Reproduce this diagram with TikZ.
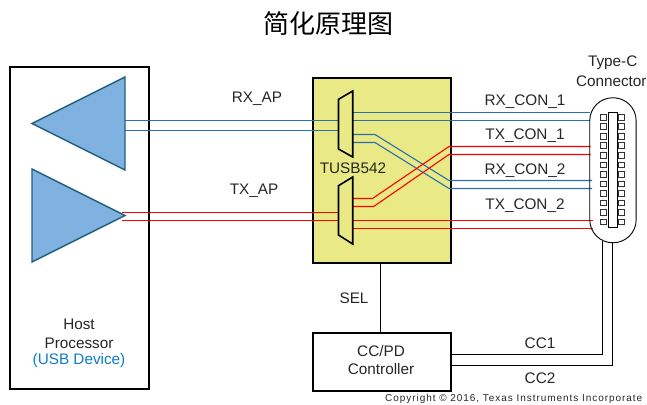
\documentclass[tikz,border=0pt]{standalone}
\usepackage{fontspec}
\setmainfont{Liberation Sans}
\newfontfamily\cjk{Noto Sans CJK SC}
\definecolor{tiblue}{HTML}{2A6FB0}
\definecolor{tifill}{HTML}{7FB2E0}
\definecolor{tiedge}{HTML}{255E7E}
\definecolor{tiyellow}{HTML}{E9E985}
\definecolor{tilabel}{HTML}{0F7BC4}
\tikzset{
  lbl/.style={inner sep=0pt,font=\fontsize{15.3}{15.3}\selectfont,text=black!85},
  box/.style={draw=black,line width=1.5pt,inner sep=0pt,anchor=north west},
  bluewire/.style={draw=tiblue,line width=1.1pt},
  redwire/.style={draw=red,line width=1.1pt},
  blackwire/.style={draw=black,line width=0.9pt},
  amp/.style={draw=tiedge,fill=tifill,line width=1.4pt,line join=miter},
  mux/.style={draw=black,fill=tiyellow,line width=1.6pt,line join=miter},
  pin/.style={draw=black!80,fill=white,line width=0.55pt},
}
\begin{document}
\begin{tikzpicture}[x=1pt,y=-1pt]
\useasboundingbox (0,0) rectangle (647,404);
% boxes
\node[box,minimum width=139pt,minimum height=322pt] (host) at (9,66) {};
\node[box,fill=tiyellow,minimum width=137.7pt,minimum height=185pt] (chip) at (312.3,77) {};
\node[box,minimum width=137.7pt,minimum height=57.7pt] (ctrl) at (312.3,332.3) {};
% amplifiers
\coordinate (a1) at (125,120.5); \coordinate (a2) at (125,130.5);
\coordinate (b1) at (122,212.5); \coordinate (b2) at (122,220.5);
% mux ports
\coordinate (m1) at (338.5,120.5); \coordinate (m2) at (338.5,130.5);
\coordinate (n1) at (338.5,212.5); \coordinate (n2) at (338.5,220.5);
% right side ports
\coordinate (c1) at (589.5,112.5); \coordinate (c2) at (589.5,120.5);
\coordinate (c3) at (590.5,146.5); \coordinate (c4) at (590.5,154.5);
\coordinate (c5) at (592,180.5); \coordinate (c6) at (592,188.5);
\coordinate (c7) at (593,220.5); \coordinate (c8) at (593,228.5);
% wires
\draw[bluewire] (a1) -- (m1);
\draw[bluewire] (a2) -- (m2);
\draw[redwire] (b1) -- (n1);
\draw[redwire] (b2) -- (n2);
\draw[bluewire] (352.7,112.5) -- (c1);
\draw[bluewire] (352.7,120.5) -- (c2);
\draw[bluewire] (352.7,134.5) -- (375,134.5) -- (449,180.5) -- (c5);
\draw[bluewire] (352.7,142.5) -- (375,142.5) -- (449,188.5) -- (c6);
\draw[redwire] (352.7,198.5) -- (372.5,198.5) -- (449,146.5) -- (c3);
\draw[redwire] (352.7,206.5) -- (373.7,206.5) -- (449,154.5) -- (c4);
\draw[redwire] (352.7,220.5) -- (c7);
\draw[redwire] (352.7,228.5) -- (c8);
% amplifier shapes
\draw[amp] (125,77) -- (32,123.5) -- (125,170) -- cycle;
\draw[amp] (32,169) -- (125,215.5) -- (32,262) -- cycle;
% muxes
\draw[mux] (338.5,99.3) -- (352.7,91) -- (352.7,157) -- (338.5,149) -- cycle;
\draw[mux] (338.5,185.7) -- (352.7,177) -- (352.7,244) -- (338.5,235) -- cycle;
% connector
\node[draw=black,line width=0.9pt,rounded corners=23pt,minimum width=46.4pt,minimum height=145pt,inner sep=0pt,anchor=north west] (conn) at (589.3,97.3) {};
\node[draw=black,line width=0.9pt,minimum width=8.4pt,minimum height=114.4pt,inner sep=0pt,anchor=north west] (slot) at (608.3,112.3) {};
\foreach \i in {0,...,11}{
  \draw[pin] (600.7,{114.2+\i*9.52}) rectangle (606.7,{119.8+\i*9.52});
  \draw[pin] (618,{114.2+\i*9.52}) rectangle (624,{119.8+\i*9.52});
}
% control wires
\coordinate (cc1) at (602.5,240.6); \coordinate (cc2) at (612.5,242.3);
\coordinate (s1) at (380.5,262); \coordinate (s2) at (380.5,332.3);
\draw[blackwire] (s1) -- (s2);
\draw[blackwire] (450,354.5) -- (602.5,354.5) -- (cc1);
\draw[blackwire] (450,365.5) -- (612.5,365.5) -- (cc2);
% text
\node[inner sep=0pt] (title) at (328.5,24) {\cjk\fontsize{26}{26}\selectfont 简化原理图};
\node[lbl] (t1) at (257,98.5) {RX\_AP};
\node[lbl] (t2) at (254,190.5) {TX\_AP};
\node[lbl] (t3) at (525,101.5) {RX\_CON\_1};
\node[lbl] (t4) at (525,135.5) {TX\_CON\_1};
\node[lbl] (t5) at (525,170.5) {RX\_CON\_2};
\node[lbl] (t6) at (525,205.5) {TX\_CON\_2};
\node[lbl] (t7) at (612.7,62.5) {Type-C};
\node[lbl] (t8) at (611.3,81.5) {Connector};
\node[lbl] (t9) at (353,168) {TUSB542};
\node[lbl] (t10) at (354,298) {SEL};
\node[lbl] (t11) at (540,343.5) {CC1};
\node[lbl] (t12) at (540,378) {CC2};
\node[lbl] (t13) at (381,351.5) {CC/PD};
\node[lbl] (t14) at (381,369.5) {Controller};
\node[lbl] (t15) at (79,324) {Host};
\node[lbl] (t16) at (79,343) {Processor};
\node[lbl,text=tilabel] (t17) at (79,360.5) {(USB Device)};
\node[inner sep=0pt,anchor=base west,font=\fontsize{10}{10}\selectfont,text=black!85] (t18) at (385,401.8) {\addfontfeature{LetterSpace=9.5}Copyright © 2016, Texas Instruments Incorporate};
\end{tikzpicture}
\end{document}
